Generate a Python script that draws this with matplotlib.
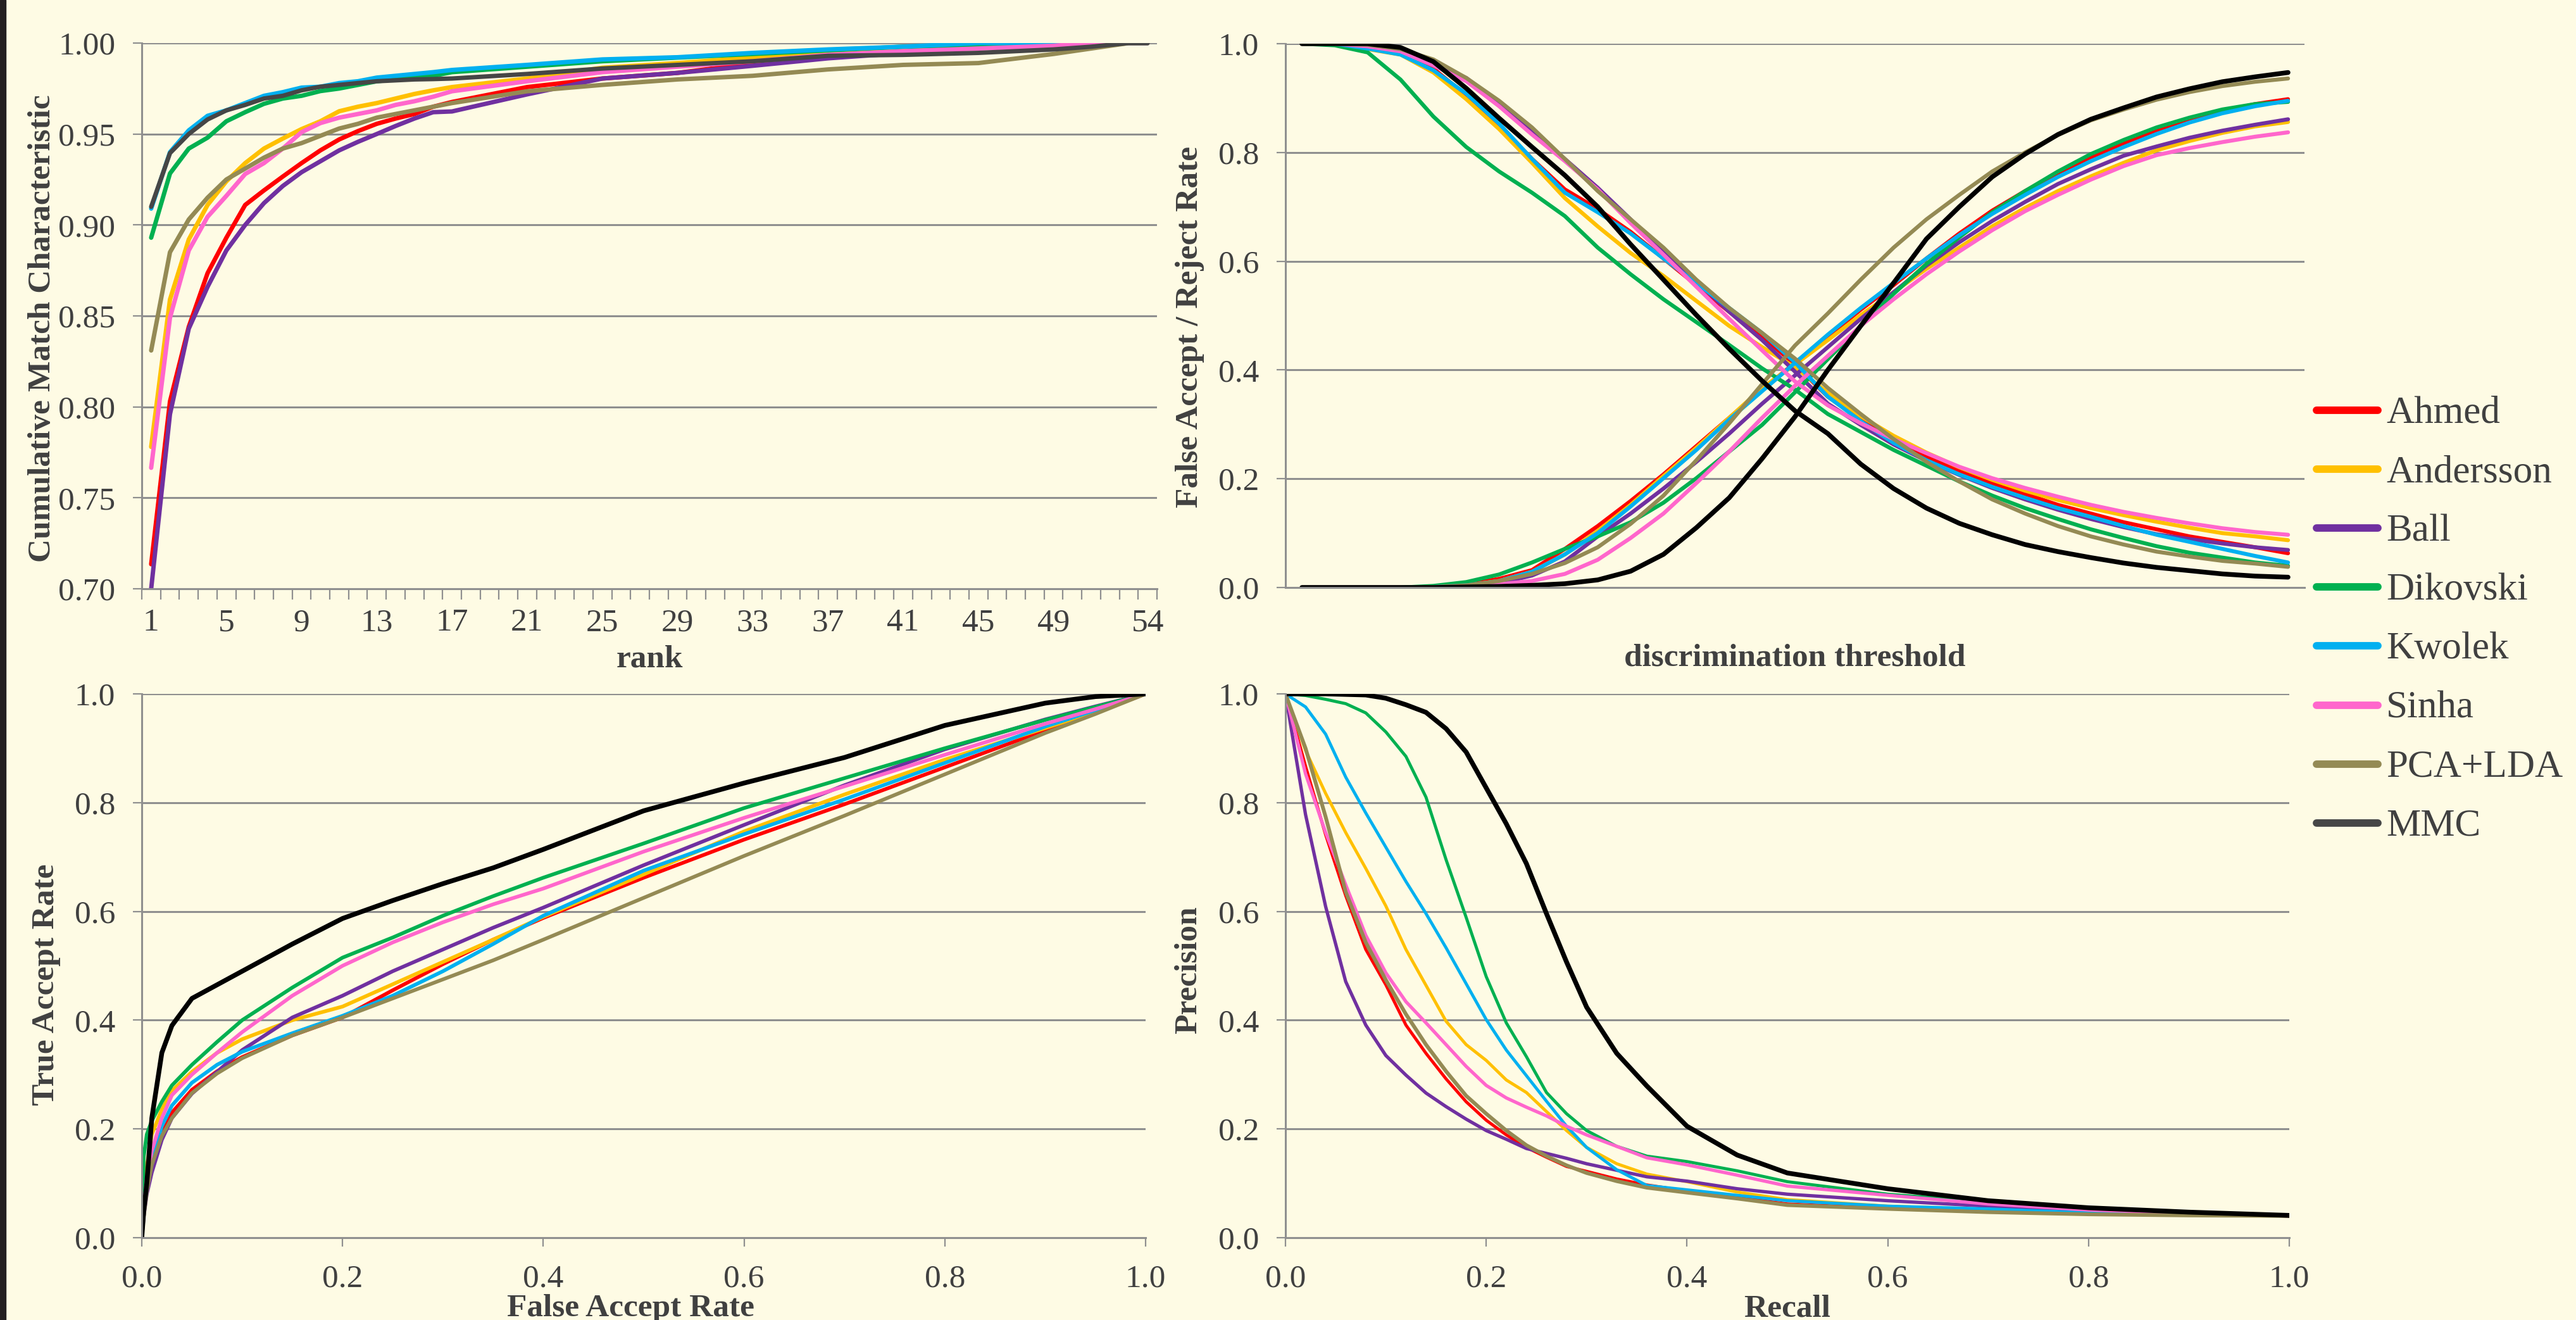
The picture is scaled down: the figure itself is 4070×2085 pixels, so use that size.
import matplotlib
matplotlib.use("Agg")
import matplotlib.pyplot as plt
from matplotlib.lines import Line2D
from matplotlib.patches import Rectangle
from matplotlib.ticker import FixedLocator, FormatStrFormatter

# ---------------- data ----------------
methods = ["Ahmed", "Andersson", "Ball", "Dikovski", "Kwolek", "Sinha", "PCA+LDA", "MMC"]
colors = ["#FF0000", "#FFC000", "#7030A0", "#00B050", "#00B0F0", "#FF66CC", "#948A54", "#000000"]
mmc_grey = "#464646"

# CMC (rank -> cumulative match)
ranks = [1, 2, 3, 4, 5, 6, 7, 8, 9, 10, 11, 12, 13, 14, 15, 16, 17, 21, 25, 29, 33, 37, 41, 45, 49, 51, 53, 54]
cmc_ahmed = [0.7135, 0.803, 0.844, 0.8735, 0.893, 0.911, 0.919, 0.9266, 0.934, 0.941, 0.947, 0.9516, 0.9556, 0.9585,
             0.961, 0.965, 0.9676, 0.9758, 0.9805, 0.9836, 0.9888, 0.992, 0.9955, 0.9985, 1.0, 1.0, 1.0, 1.0]
cmc_andersson = [0.778, 0.859, 0.892, 0.911, 0.924, 0.934, 0.942, 0.9475, 0.9527, 0.957, 0.9625, 0.965, 0.967, 0.9695,
                 0.972, 0.974, 0.9758, 0.9805, 0.9864, 0.989, 0.992, 0.9945, 0.997, 1.0, 1.0, 1.0, 1.0, 1.0]
cmc_ball = [0.700, 0.796, 0.843, 0.866, 0.886, 0.900, 0.912, 0.9214, 0.929, 0.935, 0.941, 0.9457, 0.950, 0.9544,
            0.9585, 0.962, 0.9624, 0.9718, 0.9805, 0.9836, 0.9875, 0.9916, 0.9945, 0.998, 1.0, 1.0, 1.0, 1.0]
cmc_dikovski = [0.893, 0.9283, 0.942, 0.948, 0.957, 0.962, 0.9666, 0.9695, 0.971, 0.9736, 0.975, 0.977, 0.979, 0.980,
                0.981, 0.982, 0.984, 0.987, 0.990, 0.992, 0.994, 0.996, 0.998, 0.999, 1.0, 1.0, 1.0, 1.0]
cmc_kwolek = [0.909, 0.940, 0.952, 0.960, 0.963, 0.967, 0.971, 0.973, 0.9755, 0.976, 0.978, 0.979, 0.981, 0.982,
              0.983, 0.984, 0.9852, 0.988, 0.991, 0.9922, 0.9946, 0.9965, 0.998, 1.0, 1.0, 1.0, 1.0, 1.0]
cmc_sinha = [0.7665, 0.849, 0.886, 0.9045, 0.916, 0.928, 0.934, 0.942, 0.951, 0.956, 0.959, 0.961, 0.963, 0.966,
             0.968, 0.9705, 0.9735, 0.979, 0.984, 0.987, 0.990, 0.9935, 0.9955, 0.997, 0.9985, 1.0, 1.0, 1.0]
cmc_pcalda = [0.831, 0.885, 0.903, 0.915, 0.925, 0.931, 0.937, 0.942, 0.945, 0.949, 0.953, 0.9556, 0.959, 0.961,
              0.963, 0.965, 0.967, 0.9735, 0.977, 0.980, 0.982, 0.9855, 0.988, 0.989, 0.994, 0.997, 1.0, 1.0]
cmc_mmc = [0.910, 0.9395, 0.950, 0.958, 0.963, 0.966, 0.9695, 0.971, 0.974, 0.976, 0.977, 0.978, 0.979, 0.9795,
           0.980, 0.9802, 0.9805, 0.983, 0.986, 0.988, 0.990, 0.993, 0.9935, 0.9946, 0.9965, 0.998, 1.0, 1.0]
cmc_all = [cmc_ahmed, cmc_andersson, cmc_ball, cmc_dikovski, cmc_kwolek, cmc_sinha, cmc_pcalda, cmc_mmc]
rank_ticks = [1, 5, 9, 13, 17, 21, 25, 29, 33, 37, 41, 45, 49, 54]

# FAR / FRR vs discrimination threshold (31 threshold steps)
thr = list(range(31))
frr_ahmed = [1.0, 1.0, .993, .983, .954, .905, .85, .788, .732, .696, .654, .605, .556, .507, .462, .41, .351, .309, .273,
             .24, .214, .192, .172, .152, .136, .12, .107, .094, .084, .074, .063]
far_ahmed = [0, 0, 0, 0, .001, .006, .016, .032, .071, .113, .159, .208, .26, .312, .364, .413, .462, .511, .556, .605,
             .651, .693, .729, .762, .791, .817, .84, .859, .876, .889, .898]
frr_andersson = [1.0, 1.0, .99, .98, .947, .898, .843, .781, .716, .664, .615, .573, .527, .481, .442, .405, .358, .315,
                 .279, .248, .221, .198, .178, .161, .146, .133, .121, .11, .10, .094, .087]
far_andersson = [0, 0, 0, 0, .001, .004, .012, .029, .061, .104, .152, .205, .257, .312, .367, .41, .455, .501, .543, .586,
                 .625, .664, .698, .729, .756, .781, .804, .821, .836, .848, .856]
frr_ball = [1.0, 1.0, .995, .986, .964, .937, .892, .84, .788, .735, .677, .618, .563, .507, .455, .397, .338, .299, .263,
            .233, .207, .183, .162, .143, .126, .111, .098, .089, .081, .074, .069]
far_ball = [0, 0, 0, 0, 0, .002, .008, .022, .048, .094, .136, .182, .231, .283, .338, .39, .442, .494, .543, .592, .635,
            .674, .709, .742, .769, .794, .811, .827, .840, .851, .861]
frr_dikovski = [1.0, .997, .984, .934, .866, .81, .765, .726, .683, .625, .576, .53, .488, .446, .403, .364, .319, .286,
                .253, .224, .195, .169, .146, .126, .107, .091, .076, .064, .055, .046, .040]
far_dikovski = [0, 0, 0, 0, .003, .01, .024, .046, .071, .094, .12, .156, .201, .25, .299, .359, .42, .481, .54, .595,
                .644, .69, .729, .765, .797, .823, .846, .864, .879, .889, .893]
frr_kwolek = [1.0, 1.0, .991, .98, .951, .908, .853, .788, .726, .69, .651, .605, .56, .514, .468, .414, .351, .306, .266,
              .234, .208, .185, .165, .146, .13, .113, .097, .084, .071, .058, .046]
far_kwolek = [0, 0, 0, 0, .001, .004, .012, .029, .061, .10, .149, .201, .253, .309, .361, .413, .465, .514, .56, .605,
              .648, .687, .722, .755, .784, .81, .834, .855, .872, .885, .895]
frr_sinha = [1.0, 1.0, .995, .986, .96, .931, .885, .833, .784, .732, .67, .612, .553, .494, .436, .379, .335, .302, .273,
             .247, .222, .201, .183, .167, .152, .139, .128, .118, .109, .102, .097]
far_sinha = [0, 0, 0, 0, 0, .001, .006, .012, .025, .051, .091, .136, .192, .25, .312, .371, .426, .481, .53, .576, .618,
             .657, .692, .722, .75, .775, .795, .808, .819, .829, .837]
frr_pcalda = [1.0, 1.0, .998, .99, .971, .937, .895, .846, .788, .729, .677, .625, .566, .514, .468, .421, .367, .319,
              .273, .231, .195, .162, .136, .113, .094, .079, .066, .057, .049, .044, .038]
far_pcalda = [0, 0, 0, 0, .001, .004, .012, .025, .045, .074, .117, .169, .234, .302, .374, .445, .504, .566, .625, .677,
              .722, .765, .80, .832, .859, .879, .897, .911, .922, .930, .936]
frr_mmc = [1.0, 1.0, 1.0, .993, .967, .918, .863, .810, .758, .700, .631, .566, .501, .439, .380, .325, .283, .227, .182,
           .146, .118, .097, .079, .066, .055, .045, .037, .031, .025, .021, .019]
far_mmc = [0, 0, 0, 0, 0, .001, .002, .004, .007, .014, .03, .061, .110, .165, .237, .314, .40, .481, .56, .641, .70,
           .755, .797, .833, .861, .882, .902, .917, .930, .939, .947]
frr_all = [frr_ahmed, frr_andersson, frr_ball, frr_dikovski, frr_kwolek, frr_sinha, frr_pcalda, frr_mmc]
far_all = [far_ahmed, far_andersson, far_ball, far_dikovski, far_kwolek, far_sinha, far_pcalda, far_mmc]

# ROC
roc_far = [0, .002, .005, .01, .02, .03, .05, .075, .1, .15, .2, .25, .3, .35, .4, .5, .6, .7, .8, .9, .95, 1.0]
tar_ahmed = [0, .05, .10, .154, .20, .23, .272, .306, .332, .372, .405, .455, .503, .548, .588, .662, .732, .797, .865, .933, .965, 1.0]
tar_andersson = [0, .07, .13, .19, .236, .27, .305, .34, .365, .40, .425, .466, .507, .548, .59, .668, .747, .815, .879, .937, .967, 1.0]
tar_ball = [0, .04, .08, .12, .18, .22, .265, .305, .345, .405, .445, .49, .53, .57, .607, .685, .759, .832, .898, .953, .977, 1.0]
tar_dikovski = [0, .15, .19, .215, .25, .28, .318, .36, .40, .46, .515, .552, .592, .628, .662, .725, .79, .845, .90, .952, .976, 1.0]
tar_kwolek = [0, .06, .10, .14, .205, .243, .285, .318, .342, .376, .408, .445, .49, .54, .592, .675, .742, .806, .873, .94, .97, 1.0]
tar_sinha = [0, .055, .11, .16, .22, .262, .30, .34, .378, .445, .50, .543, .58, .613, .642, .71, .772, .83, .888, .945, .972, 1.0]
tar_pcalda = [0, .04, .085, .134, .187, .22, .266, .302, .33, .372, .405, .44, .475, .51, .548, .625, .702, .776, .852, .928, .963, 1.0]
tar_mmc = [0, .05, .10, .22, .34, .39, .44, .465, .49, .54, .587, .62, .651, .68, .714, .785, .836, .883, .942, .983, .995, 1.0]
tar_all = [tar_ahmed, tar_andersson, tar_ball, tar_dikovski, tar_kwolek, tar_sinha, tar_pcalda, tar_mmc]

# Precision / Recall
recall = [0, .02, .04, .06, .08, .10, .12, .14, .16, .18, .20, .22, .24, .26, .28, .30, .33, .36, .40, .45, .50, .60, .70, .80, .90, 1.0]
prec_ahmed = [1.0, .867, .741, .629, .53, .465, .391, .339, .292, .25, .216, .189, .166, .148, .131, .122, .108, .097, .086,
              .074, .062, .054, .048, .044, .042, .04]
prec_andersson = [1.0, .896, .817, .745, .679, .61, .53, .464, .398, .355, .326, .29, .267, .232, .197, .166, .136, .117,
                  .103, .084, .07, .058, .052, .046, .042, .04]
prec_ball = [1.0, .778, .609, .471, .391, .335, .299, .266, .241, .218, .197, .181, .164, .155, .146, .136, .124, .112,
             .104, .09, .08, .068, .058, .05, .044, .04]
prec_dikovski = [1.0, .997, .99, .982, .965, .93, .885, .81, .695, .589, .48, .395, .333, .267, .228, .197, .168, .15,
                 .14, .123, .103, .08, .066, .053, .046, .04]
prec_kwolek = [1.0, .976, .926, .847, .781, .718, .655, .596, .533, .467, .401, .345, .298, .251, .205, .166, .125, .096,
               .088, .078, .068, .058, .053, .046, .042, .04]
prec_sinha = [1.0, .853, .745, .649, .556, .487, .434, .395, .355, .315, .28, .257, .24, .224, .205, .189, .168, .147,
              .134, .115, .095, .078, .062, .051, .045, .04]
prec_pcalda = [1.0, .90, .774, .636, .543, .474, .411, .355, .306, .261, .228, .197, .17, .15, .133, .119, .104, .092,
               .083, .072, .06, .053, .047, .043, .041, .04]
prec_mmc = [1.0, 1.0, 1.0, .999, .998, .992, .980, .966, .936, .893, .827, .761, .688, .596, .507, .424, .339, .279, .205,
            .152, .119, .09, .068, .055, .047, .041]
prec_all = [prec_ahmed, prec_andersson, prec_ball, prec_dikovski, prec_kwolek, prec_sinha, prec_pcalda, prec_mmc]

# ---------------- style ----------------
W, H = 4070, 2085
DPI = 100
BG = "#FEFBE4"
GRID = "#8F8F8F"
TXT = "#404040"
FS = 37
LEG_FS = 44
plt.rcParams["font.family"] = ["Liberation Serif", "DejaVu Serif"]

fig = plt.figure(figsize=(W / DPI, H / DPI), dpi=DPI)
fig.patch.set_facecolor(BG)


def fx(x):
    return x / W


def fy(y):
    return 1 - y / H


def make_ax(x0, x1, y0, y1):
    ax = fig.add_axes([fx(x0), fy(y1), (x1 - x0) / W, (y1 - y0) / H])
    ax.set_facecolor(BG)
    for s in ("top", "right"):
        ax.spines[s].set_visible(False)
    for s in ("left", "bottom"):
        ax.spines[s].set_color(GRID)
        ax.spines[s].set_linewidth(2.2)
    ax.grid(axis="y", color=GRID, linewidth=2.2)
    ax.set_axisbelow(True)
    ax.tick_params(axis="y", direction="out", length=10, width=1.6, color=GRID,
                   labelsize=FS, labelcolor=TXT, pad=20)
    ax.tick_params(axis="x", direction="out", length=10, width=1.6, color=GRID,
                   labelsize=FS, labelcolor=TXT, pad=20)
    return ax


line_kw = dict(solid_capstyle="round", solid_joinstyle="round")

# --- top-left: CMC ---
ax1 = make_ax(224, 1828, 68, 930)
for vals, c, m in zip(cmc_all, colors, methods):
    col = mmc_grey if m == "MMC" else c
    ax1.plot(ranks, vals, color=col, lw=5, **line_kw)
ax1.set_xlim(0.5, 54.5)
ax1.set_ylim(0.70, 1.00)
ax1.yaxis.set_major_locator(FixedLocator([0.70, 0.75, 0.80, 0.85, 0.90, 0.95, 1.00]))
ax1.yaxis.set_major_formatter(FormatStrFormatter("%.2f"))
ax1.set_xticks(rank_ticks)
ax1.set_xticklabels([str(r) for r in rank_ticks])
ax1.set_xticks([r + 0.5 for r in range(0, 55)], minor=True)
ax1.tick_params(axis="x", which="major", length=0, pad=22)
ax1.tick_params(axis="x", which="minor", length=12, width=1.6, color=GRID, direction="out")

# --- top-right: FAR / FRR ---
ax2 = make_ax(2031, 3641, 69, 928)
for frr, far, c, m in zip(frr_all, far_all, colors, methods):
    lw = 5.4 if m == "MMC" else 4.5
    ax2.plot(thr, frr, color=c, lw=lw, **line_kw)
    ax2.plot(thr, far, color=c, lw=lw, **line_kw)
ax2.set_xlim(-0.5, 30.5)
ax2.set_ylim(0, 1.0)
ax2.yaxis.set_major_locator(FixedLocator([0, 0.2, 0.4, 0.6, 0.8, 1.0]))
ax2.yaxis.set_major_formatter(FormatStrFormatter("%.1f"))
ax2.set_xticks([])

# --- bottom-left: ROC ---
ax3 = make_ax(224, 1810, 1096, 1955)
for vals, c, m in zip(tar_all, colors, methods):
    lw = 5.4 if m == "MMC" else 4.2
    ax3.plot(roc_far, vals, color=c, lw=lw, **line_kw)
ax3.set_xlim(0, 1)
ax3.set_ylim(0, 1)
ax3.xaxis.set_major_locator(FixedLocator([0, 0.2, 0.4, 0.6, 0.8, 1.0]))
ax3.yaxis.set_major_locator(FixedLocator([0, 0.2, 0.4, 0.6, 0.8, 1.0]))
ax3.xaxis.set_major_formatter(FormatStrFormatter("%.1f"))
ax3.yaxis.set_major_formatter(FormatStrFormatter("%.1f"))

# --- bottom-right: Precision / Recall ---
ax4 = make_ax(2031, 3617, 1096, 1955)
pr_lw = {"MMC": 5.4, "PCA+LDA": 4.3, "Ball": 3.8, "Sinha": 3.8}
for vals, c, m in zip(prec_all, colors, methods):
    ax4.plot(recall, vals, color=c, lw=pr_lw.get(m, 3.5), **line_kw)
ax4.set_xlim(0, 1)
ax4.set_ylim(0, 1)
ax4.xaxis.set_major_locator(FixedLocator([0, 0.2, 0.4, 0.6, 0.8, 1.0]))
ax4.yaxis.set_major_locator(FixedLocator([0, 0.2, 0.4, 0.6, 0.8, 1.0]))
ax4.xaxis.set_major_formatter(FormatStrFormatter("%.1f"))
ax4.yaxis.set_major_formatter(FormatStrFormatter("%.1f"))

# ---------------- axis titles ----------------
title_kw = dict(fontsize=FS, fontweight="bold", color=TXT, ha="center", va="center")
fig.text(fx(67), fy(519), "Cumulative Match Characteristic", rotation=90, **title_kw)
fig.text(fx(1880), fy(516), "False Accept / Reject Rate", rotation=90, **title_kw)
fig.text(fx(73), fy(1555), "True Accept Rate", rotation=90, **title_kw)
fig.text(fx(1878), fy(1532), "Precision", rotation=90, **title_kw)
fig.text(fx(1026), fy(1041), "rank", **title_kw)
fig.text(fx(2836), fy(1040), "discrimination threshold", **title_kw)
fig.text(fx(996), fy(2067), "False Accept Rate", **title_kw)
fig.text(fx(2824), fy(2067), "Recall", **title_kw)

# ---------------- legend ----------------
for k, (m, c) in enumerate(zip(methods, colors)):
    col = mmc_grey if m == "MMC" else c
    yl = 648 + 93.1 * k
    fig.add_artist(Line2D([fx(3660), fx(3757)], [fy(yl), fy(yl)], color=col, lw=8.5,
                          solid_capstyle="round", transform=fig.transFigure))
    fig.text(fx(3770), fy(yl + 20), m, fontsize=LEG_FS, color=TXT, ha="left", va="baseline")

# dark strip on the left edge
fig.add_artist(Rectangle((0, 0), 9 / W, 1, transform=fig.transFigure, color="#231F20", zorder=10))

fig.savefig("out.png", dpi=DPI, facecolor=BG)
